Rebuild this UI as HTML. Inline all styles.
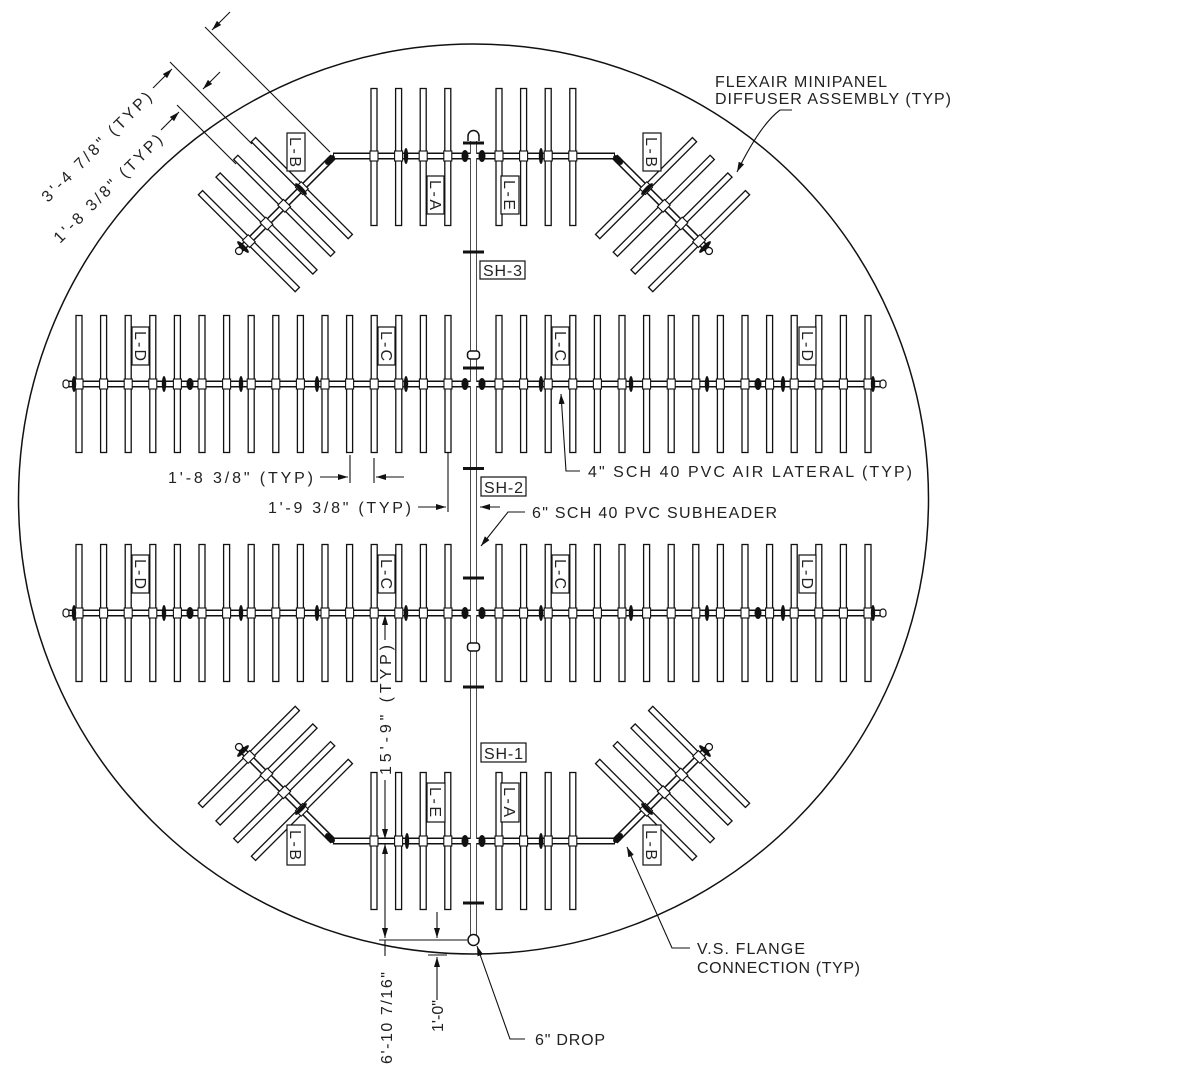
<!DOCTYPE html>
<html><head><meta charset="utf-8">
<style>
html,body{margin:0;padding:0;background:#fff;}
svg{display:block;}
text{font-family:"Liberation Sans",sans-serif;font-size:16px;fill:#222;}
</style></head>
<body>
<svg width="1200" height="1092" viewBox="0 0 1200 1092" xmlns="http://www.w3.org/2000/svg">
<defs>
  <rect id="d" x="-3" y="-68.5" width="6" height="137" fill="#fff" stroke="#111" stroke-width="1.3"/>
  <rect id="c" x="-4" y="-5" width="8" height="10" fill="#fff" stroke="#111" stroke-width="1.1"/>
  <ellipse id="fl" cx="0" cy="0" rx="2.2" ry="8" fill="#111"/>
  <ellipse id="bl" cx="0" cy="0" rx="3.5" ry="6" fill="#111"/>
  <g id="r16">
    <use href="#d" x="0"/><use href="#d" x="24.6"/><use href="#d" x="49.2"/><use href="#d" x="73.8"/>
    <use href="#d" x="98.4"/><use href="#d" x="123"/><use href="#d" x="147.6"/><use href="#d" x="172.2"/>
    <use href="#d" x="196.8"/><use href="#d" x="221.4"/><use href="#d" x="246"/><use href="#d" x="270.6"/>
    <use href="#d" x="295.2"/><use href="#d" x="319.8"/><use href="#d" x="344.4"/><use href="#d" x="369"/>
  </g>
  <g id="c16">
    <use href="#c" x="0"/><use href="#c" x="24.6"/><use href="#c" x="49.2"/><use href="#c" x="73.8"/>
    <use href="#c" x="98.4"/><use href="#c" x="123"/><use href="#c" x="147.6"/><use href="#c" x="172.2"/>
    <use href="#c" x="196.8"/><use href="#c" x="221.4"/><use href="#c" x="246"/><use href="#c" x="270.6"/>
    <use href="#c" x="295.2"/><use href="#c" x="319.8"/><use href="#c" x="344.4"/><use href="#c" x="369"/>
  </g>
  <g id="r4"><use href="#d" x="0"/><use href="#d" x="24.6"/><use href="#d" x="49.2"/><use href="#d" x="73.8"/></g>
  <g id="c4"><use href="#c" x="0"/><use href="#c" x="24.6"/><use href="#c" x="49.2"/><use href="#c" x="73.8"/></g>
  <marker id="ah" viewBox="0 0 10 6" refX="10" refY="3" markerWidth="10" markerHeight="6" orient="auto" markerUnits="userSpaceOnUse">
    <path d="M0,0 L10,3 L0,6 z" fill="#111"/>
  </marker>
</defs>

<circle cx="473.5" cy="499" r="455" fill="none" stroke="#111" stroke-width="1.5"/>

<use href="#r16" x="79" y="384"/><use href="#r16" x="499" y="384"/>
<use href="#r16" x="79" y="613"/><use href="#r16" x="499" y="613"/>
<use href="#r4" x="374" y="157"/><use href="#r4" x="499" y="157"/>
<use href="#r4" x="374" y="841"/><use href="#r4" x="499" y="841"/>

<g>
<use href="#d" transform="translate(301.9,188.1) rotate(-45)"/>
<use href="#d" transform="translate(284.2,205.8) rotate(-45)"/>
<use href="#d" transform="translate(266.5,223.5) rotate(-45)"/>
<use href="#d" transform="translate(248.9,241.1) rotate(-45)"/>
<use href="#d" transform="translate(646.1,188.1) rotate(45)"/>
<use href="#d" transform="translate(663.8,205.8) rotate(45)"/>
<use href="#d" transform="translate(681.5,223.5) rotate(45)"/>
<use href="#d" transform="translate(699.1,241.1) rotate(45)"/>
<use href="#d" transform="translate(301.9,809.9) rotate(45)"/>
<use href="#d" transform="translate(284.2,792.2) rotate(45)"/>
<use href="#d" transform="translate(266.5,774.5) rotate(45)"/>
<use href="#d" transform="translate(248.9,756.9) rotate(45)"/>
<use href="#d" transform="translate(646.1,809.9) rotate(-45)"/>
<use href="#d" transform="translate(663.8,792.2) rotate(-45)"/>
<use href="#d" transform="translate(681.5,774.5) rotate(-45)"/>
<use href="#d" transform="translate(699.1,756.9) rotate(-45)"/>
</g>

<g fill="none" stroke-linecap="butt">
  <g stroke="#111" stroke-width="7">
    <path d="M66,384 H884 M66,613 H884 M333,156 H615 M333,841 H615"/>
    <path d="M333,157 L241,249 M615,157 L707,249 M333,841 L241,749 M615,841 L707,749"/>
    <path d="M473.5,137 V936"/>
  </g>
  <g stroke="#fff" stroke-width="4">
    <path d="M67,384 H883 M67,613 H883 M334,156 H614 M334,841 H614"/>
    <path d="M332,158 L242,248 M616,158 L706,248 M332,840 L242,750 M616,840 L706,750"/>
  </g>
  <path d="M473.5,138 V935" stroke="#fff" stroke-width="5.5"/>
</g>

<use href="#c16" x="79" y="384"/><use href="#c16" x="499" y="384"/>
<use href="#c16" x="79" y="613"/><use href="#c16" x="499" y="613"/>
<use href="#c4" x="374" y="156"/><use href="#c4" x="499" y="156"/>
<use href="#c4" x="374" y="841"/><use href="#c4" x="499" y="841"/>
<g>
<use href="#c" transform="translate(301.9,188.1) rotate(-45)"/>
<use href="#c" transform="translate(284.2,205.8) rotate(-45)"/>
<use href="#c" transform="translate(266.5,223.5) rotate(-45)"/>
<use href="#c" transform="translate(248.9,241.1) rotate(-45)"/>
<use href="#c" transform="translate(646.1,188.1) rotate(45)"/>
<use href="#c" transform="translate(663.8,205.8) rotate(45)"/>
<use href="#c" transform="translate(681.5,223.5) rotate(45)"/>
<use href="#c" transform="translate(699.1,241.1) rotate(45)"/>
<use href="#c" transform="translate(301.9,809.9) rotate(45)"/>
<use href="#c" transform="translate(284.2,792.2) rotate(45)"/>
<use href="#c" transform="translate(266.5,774.5) rotate(45)"/>
<use href="#c" transform="translate(248.9,756.9) rotate(45)"/>
<use href="#c" transform="translate(646.1,809.9) rotate(-45)"/>
<use href="#c" transform="translate(663.8,792.2) rotate(-45)"/>
<use href="#c" transform="translate(681.5,774.5) rotate(-45)"/>
<use href="#c" transform="translate(699.1,756.9) rotate(-45)"/>
</g>

<g>
  <use href="#fl" x="74" y="384"/><use href="#fl" x="164" y="384"/><use href="#bl" x="190" y="384"/><use href="#fl" x="241" y="384"/><use href="#fl" x="317" y="384"/><use href="#fl" x="406" y="384"/>
  <use href="#fl" x="541" y="384"/><use href="#fl" x="631" y="384"/><use href="#fl" x="707" y="384"/><use href="#bl" x="758" y="384"/><use href="#fl" x="783" y="384"/><use href="#fl" x="873" y="384"/>
  <use href="#fl" x="74" y="613"/><use href="#fl" x="164" y="613"/><use href="#bl" x="190" y="613"/><use href="#fl" x="241" y="613"/><use href="#fl" x="317" y="613"/><use href="#fl" x="406" y="613"/>
  <use href="#fl" x="541" y="613"/><use href="#fl" x="631" y="613"/><use href="#fl" x="707" y="613"/><use href="#bl" x="758" y="613"/><use href="#fl" x="783" y="613"/><use href="#fl" x="873" y="613"/>
  <use href="#fl" x="406" y="156"/><use href="#fl" x="541" y="156"/>
  <use href="#fl" x="407" y="841"/><use href="#fl" x="541" y="841"/>
  <use href="#bl" x="465" y="384"/><use href="#bl" x="482" y="384"/>
  <use href="#bl" x="465" y="613"/><use href="#bl" x="482" y="613"/>
  <use href="#bl" x="465" y="156"/><use href="#bl" x="482" y="156"/>
  <use href="#bl" x="465" y="841"/><use href="#bl" x="482" y="841"/>
  <use href="#fl" transform="translate(301,189) rotate(-45)"/>
  <use href="#fl" transform="translate(243,247) rotate(-45)"/>
  <use href="#fl" transform="translate(647,189) rotate(45)"/>
  <use href="#fl" transform="translate(705,247) rotate(45)"/>
  <use href="#fl" transform="translate(301,809) rotate(45)"/>
  <use href="#fl" transform="translate(243,751) rotate(45)"/>
  <use href="#fl" transform="translate(647,809) rotate(-45)"/>
  <use href="#fl" transform="translate(705,751) rotate(-45)"/>
  <use href="#bl" transform="translate(330,160) rotate(45)"/>
  <use href="#bl" transform="translate(618,160) rotate(-45)"/>
  <use href="#bl" transform="translate(330,838) rotate(-45)"/>
  <use href="#bl" transform="translate(618,838) rotate(45)"/>
</g>
<g fill="#fff" stroke="#111" stroke-width="1.2">
  <rect x="63" y="380" width="6" height="8" rx="3"/><rect x="880" y="380" width="6" height="8" rx="3"/>
  <rect x="63" y="609" width="6" height="8" rx="3"/><rect x="880" y="609" width="6" height="8" rx="3"/>
  <circle cx="239" cy="251" r="3.5"/><circle cx="709" cy="251" r="3.5"/>
  <circle cx="239" cy="747" r="3.5"/><circle cx="709" cy="747" r="3.5"/>
</g>

<g fill="#111">
  <rect x="463" y="141.5" width="21" height="3"/><rect x="463" y="250.5" width="21" height="3"/>
  <rect x="463" y="366.5" width="21" height="3"/><rect x="463" y="467" width="21" height="3"/>
  <rect x="463" y="576.5" width="21" height="3"/><rect x="463" y="685.5" width="21" height="3"/>
  <rect x="463" y="901.5" width="21" height="3"/>
</g>
<g fill="#fff" stroke="#111" stroke-width="1.5">
  <rect x="467.5" y="351" width="12" height="8" rx="3"/>
  <rect x="467.5" y="643" width="12" height="8" rx="3"/>
  <path d="M468,141 V136 A5.5,5.5 0 0 1 479,136 V141"/>
  <circle cx="473.5" cy="940" r="5.5"/>
</g>

<g fill="#fff" stroke="#111" stroke-width="1.2">
  <rect x="287" y="133" width="18" height="38"/><rect x="643" y="133" width="18" height="38"/>
  <rect x="427" y="176" width="17" height="38"/><rect x="501" y="176" width="18" height="38"/>
  <rect x="132" y="327" width="17" height="38"/><rect x="378" y="327" width="17" height="38"/>
  <rect x="552" y="327" width="17" height="38"/><rect x="799" y="327" width="17" height="38"/>
  <rect x="132" y="555" width="17" height="38"/><rect x="378" y="555" width="17" height="38"/>
  <rect x="552" y="555" width="17" height="38"/><rect x="799" y="555" width="17" height="38"/>
  <rect x="427" y="783" width="18" height="39"/><rect x="501" y="783" width="18" height="39"/>
  <rect x="287" y="825" width="18" height="40"/><rect x="643" y="825" width="18" height="40"/>
  <rect x="480" y="261" width="45" height="18"/><rect x="481" y="477" width="45" height="19"/><rect x="481" y="743" width="45" height="19"/>
</g>
<g font-size="15">
  <text transform="translate(290,137) rotate(90)" textLength="30" lengthAdjust="spacing">L-B</text>
  <text transform="translate(646,137) rotate(90)" textLength="30" lengthAdjust="spacing">L-B</text>
  <text transform="translate(430,180) rotate(90)" textLength="30" lengthAdjust="spacing">L-A</text>
  <text transform="translate(504,180) rotate(90)" textLength="30" lengthAdjust="spacing">L-E</text>
  <text transform="translate(135,331) rotate(90)" textLength="30" lengthAdjust="spacing">L-D</text>
  <text transform="translate(381,331) rotate(90)" textLength="30" lengthAdjust="spacing">L-C</text>
  <text transform="translate(555,331) rotate(90)" textLength="30" lengthAdjust="spacing">L-C</text>
  <text transform="translate(802,331) rotate(90)" textLength="30" lengthAdjust="spacing">L-D</text>
  <text transform="translate(135,559) rotate(90)" textLength="30" lengthAdjust="spacing">L-D</text>
  <text transform="translate(381,559) rotate(90)" textLength="30" lengthAdjust="spacing">L-C</text>
  <text transform="translate(555,559) rotate(90)" textLength="30" lengthAdjust="spacing">L-C</text>
  <text transform="translate(802,559) rotate(90)" textLength="30" lengthAdjust="spacing">L-D</text>
  <text transform="translate(430,787) rotate(90)" textLength="30" lengthAdjust="spacing">L-E</text>
  <text transform="translate(504,787) rotate(90)" textLength="30" lengthAdjust="spacing">L-A</text>
  <text transform="translate(290,830) rotate(90)" textLength="30" lengthAdjust="spacing">L-B</text>
  <text transform="translate(646,830) rotate(90)" textLength="30" lengthAdjust="spacing">L-B</text>
  <text x="483" y="276" textLength="39" lengthAdjust="spacing">SH-3</text>
  <text x="484" y="493" textLength="39" lengthAdjust="spacing">SH-2</text>
  <text x="484" y="759" textLength="39" lengthAdjust="spacing">SH-1</text>
</g>

<g stroke="#111" stroke-width="1.1" fill="none">
  <path d="M205,27 L330,152"/>
  <path d="M170,62 L252,144"/>
  <path d="M177,105 L236,164"/>
  <path d="M230,12 L212,30" marker-end="url(#ah)"/>
  <path d="M220,72 L203,89" marker-end="url(#ah)"/>
  <path d="M153,88 L172,69" marker-end="url(#ah)"/>
  <path d="M161,130 L179,112" marker-end="url(#ah)"/>
  <path d="M792,110 H780 Q760,125 737,172" marker-end="url(#ah)"/>
  <path d="M580,471 H566 L561,394" marker-end="url(#ah)"/>
  <path d="M350,455 V483 M374,458 V483"/>
  <path d="M320,477 H348" marker-end="url(#ah)"/>
  <path d="M404,477 H376" marker-end="url(#ah)"/>
  <path d="M448,452 V512"/>
  <path d="M418,507 H446" marker-end="url(#ah)"/>
  <path d="M500,507 H480" marker-end="url(#ah)"/>
  <path d="M525,512 H508 L481,546" marker-end="url(#ah)"/>
  <path d="M385,640 V615" marker-end="url(#ah)"/>
  <path d="M385,780 V839" marker-end="url(#ah)"/>
  <path d="M385,880 V844" marker-end="url(#ah)"/>
  <path d="M385,880 V938" marker-end="url(#ah)"/>
  <path d="M379,940 H467"/>
  <path d="M385,940 V956"/>
  <path d="M437,912 V938" marker-end="url(#ah)"/>
  <path d="M437,1000 V957" marker-end="url(#ah)"/>
  <path d="M428,955 H447"/>
  <path d="M525,1039 H510 L477,946" marker-end="url(#ah)"/>
  <path d="M690,948 H672 L627,847" marker-end="url(#ah)"/>
</g>

<text x="715" y="87" textLength="172" lengthAdjust="spacing">FLEXAIR MINIPANEL</text>
<text x="715" y="104" textLength="236" lengthAdjust="spacing">DIFFUSER ASSEMBLY (TYP)</text>
<text x="588" y="477" textLength="324" lengthAdjust="spacing">4" SCH 40 PVC AIR LATERAL (TYP)</text>
<text x="532" y="518" textLength="245" lengthAdjust="spacing">6" SCH 40 PVC SUBHEADER</text>
<text x="168" y="483" textLength="145" lengthAdjust="spacing">1'-8 3/8" (TYP)</text>
<text x="268" y="513" textLength="143" lengthAdjust="spacing">1'-9 3/8" (TYP)</text>
<text x="697" y="954" textLength="108" lengthAdjust="spacing">V.S. FLANGE</text>
<text x="697" y="973" textLength="163" lengthAdjust="spacing">CONNECTION (TYP)</text>
<text x="535" y="1045" textLength="70" lengthAdjust="spacing">6" DROP</text>
<text transform="translate(391,775) rotate(-90)" textLength="130" lengthAdjust="spacing">15'-9" (TYP)</text>
<text transform="translate(392,1064) rotate(-90)" textLength="92" lengthAdjust="spacing">6'-10 7/16"</text>
<text transform="translate(443,1032) rotate(-90)" textLength="32" lengthAdjust="spacing">1'-0"</text>
<text transform="translate(48,203) rotate(-45)" textLength="148" lengthAdjust="spacing">3'-4 7/8" (TYP)</text>
<text transform="translate(60,244) rotate(-45)" textLength="146" lengthAdjust="spacing">1'-8 3/8" (TYP)</text>
</svg>
</body></html>
